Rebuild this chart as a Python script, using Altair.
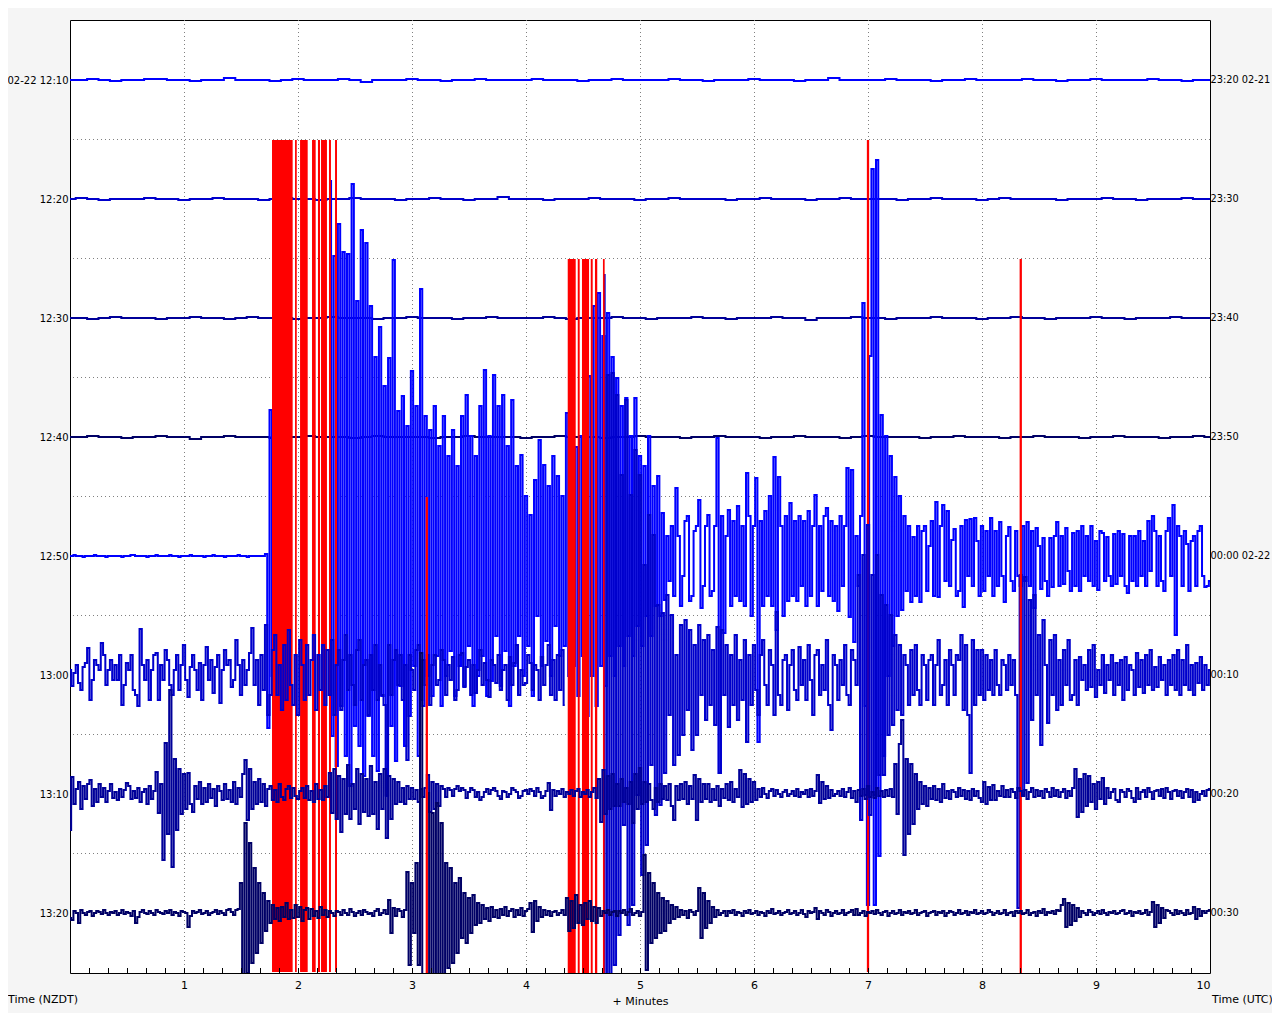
import altair as alt
import pandas as pd

# ---------------- labels ----------------
left_labels = ["02-22 12:10", "12:20", "12:30", "12:40", "12:50", "13:00", "13:10", "13:20"]
right_labels = ["23:20 02-21", "23:30", "23:40", "23:50", "00:00 02-22", "00:10", "00:20", "00:30"]
minute_ticks = [1, 2, 3, 4, 5, 6, 7, 8, 9, 10]
grid_minutes = [1, 2, 3, 4, 5, 6, 7, 8, 9]
row_colors = ["#0000ff", "#0000cc", "#000099", "#000066",
              "#0000ff", "#0000cc", "#000099", "#000066"]

ROW_GAP = 119   # counts between helicorder rows
CLIP = 416      # clip level (counts)

# ---------------- quiet rows (one sample every 0.1 min) ----------------
quiet_step = 0.1
row_1210 = [0, 0, 1, 0, -1, 0, 0, 1, 1, 0,
            0, -1, 0, 0, 2, 0, 0, 0, -1, 0,
            1, 0, 0, 0, 1, 0, -2, 0, 0, 0,
            1, 0, 0, -1, 0, 0, 1, 0, 0, 0,
            0, 1, 0, 0, 0, -1, 0, 0, 1, 0,
            0, 0, 0, 1, 0, 0, -1, 0, 0, 0,
            1, 0, 0, 0, -1, 0, 0, 2, 0, 0,
            0, 0, 1, 0, 0, 0, -1, 0, 0, 1,
            0, 0, 0, 0, 1, 0, 0, -1, 0, 0,
            1, 0, 0, 0, 0, 1, 0, 0, -1, 0,
            0]
row_1220 = [0, 1, 0, -1, 0, 0, 0, 1, 0, 0,
            -1, 0, 0, 1, 0, 0, 0, -1, 0, 1,
            0, 0, -1, 0, 0, 1, 0, 0, 0, -1,
            0, 0, 1, 0, 0, -1, 0, 0, 2, 0,
            0, 0, -1, 0, 0, 0, 1, 0, 0, 0,
            -1, 0, 0, 1, 0, 0, 0, 0, -1, 0,
            0, 1, 0, 0, 0, -1, 0, 0, 1, 0,
            0, 0, 0, -1, 0, 0, 1, 0, 0, 0,
            -1, 0, 1, 0, 0, 0, 0, -1, 0, 0,
            0, 1, 0, 0, -1, 0, 0, 0, 1, 0,
            0]
row_1230 = [0, 0, -1, 0, 1, 0, 0, 0, -1, 0,
            0, 1, 0, 0, -1, 0, 1, 0, 0, 0,
            -1, 0, 0, 1, 0, 0, 0, -1, 0, 0,
            1, 0, 0, 0, -1, 0, 0, 1, 0, 0,
            0, 0, 1, 0, -1, 0, 0, 0, 1, 0,
            0, -1, 0, 0, 0, 1, 0, 0, -1, 0,
            0, 0, 1, 0, 0, -2, 0, 0, 0, 1,
            0, 0, -1, 0, 0, 0, 1, 0, 0, 0,
            -1, 0, 0, 1, 0, 0, -1, 0, 0, 0,
            1, 0, 0, -1, 0, 0, 0, 1, 0, 0,
            0]
row_1240 = [0, 0, 1, 0, 0, -1, 0, 0, 1, 0,
            0, -2, 0, 0, 1, 0, 0, 0, -1, 0,
            0, 1, 0, 0, 0, -1, 0, 1, 0, 0,
            0, 0, -1, 0, 0, 1, 0, 0, 0, 0,
            -1, 0, 0, 1, 0, 0, 0, -1, 0, 0,
            1, 0, 0, 0, -1, 0, 0, 1, 0, 0,
            0, -1, 0, 0, 1, 0, 0, 0, -1, 0,
            1, 0, 0, 0, 0, -1, 0, 0, 1, 0,
            0, 0, -1, 0, 0, 1, 0, 0, 0, -1,
            0, 0, 1, 0, 0, 0, -1, 0, 0, 1,
            0]

# ---------------- busy rows (one sample every 0.02 min, None = clipped) ----------------
fine_step = 0.02
row_1250 = [0, 0, 1, 0, 0, 0, -1, 0, 0, 0, 0, 1, 0, 0, 0, 0, -1, 0, 0, 0,
            0, 0, 0, -1, 0, 0, 0, 1, 1, 0, 0, 0, 0, 0, -1, 0, 0, 0, 1, 0,
            0, 0, 0, 0, 1, 0, 0, 0, -1, 0, 0, 0, 0, 1, 0, 0, 0, 0, 0, -1,
            0, 0, 0, 1, 0, 0, 0, 0, -1, 0, 0, 0, 0, 0, 1, 0, 0, 0, -1, 0,
            0, 0, 0, 0, 0, 0, 2, -172, 146, -120, None, None, None, None, None, None, None, None, None, None,
            None, None, None, None, None, None, None, None, None, None, None, None, None, None, 375, -180, 300, -210, 332, -150,
            304, -200, 302, -230, 372, -170, 255, -190, 326, -220, 313, -160, 250, -200, 199, -215, 229, -140, 170, -240,
            198, -170, 296, -205, 145, -130, 160, -190, 130, -160, 185, -110, 150, -200, 267, -150, 140, -120, 126, -140,
            150, -100, 110, -150, 140, -120, 100, -95, 126, -140, 90, -110, 140, -130, 161, -90, 120, -150, 100, -120,
            150, -100, 186, -140, 120, -125, 181, -80, 150, -130, 161, -95, 110, -150, 156, -110, 90, -80, 101, -120,
            60, -90, 41, -140, 76, -60, 116, -110, 91, -85, 70, -120, 100, -70, 80, -100, 60, -90, 143, -120,
            90, -110, 109, -140, 120, -100, 150, -160, 180, -120, 250, -150, 263, -110, 220, -130, 243, -100, 199, -120,
            178, -90, 150, -110, 158, -80, 120, -100, 158, -70, 100, -90, 90, -60, 120, -80, 70, -50, 80, -60,
            43, -44, 20, -25, 30, -40, 68, 20, -50, -20, 35, 40, -45, -40, 25, 30, 56, -52, -30, 30,
            41, -40, -35, 30, 118, -217, 40, -77, 20, 46, -50, 35, -40, 50, -45, 30, -50, 83, 40, -60,
            30, 78, -186, 35, -50, 45, -40, 60, -50, 99, -74, 79, 30, -60, 40, -45, 53, -40, 35, -45,
            40, -30, 35, -50, 45, -40, 30, 61, -50, 30, -35, 40, 48, -40, 35, -45, 30, -55, 40, -30,
            30, 88, -61, 86, -86, 20, -30, 40, 253, -150, -349, 200, 387, -349, 396, -300, 141, -200, 120, -120,
            100, -90, 79, -60, 60, -54, 40, -35, 30, -46, 19, -40, 30, -46, 25, 30, -35, 10, 35, -40,
            54, -41, 30, 51, -25, 45, -30, 16, 27, -40, -35, 30, -51, 36, -20, 37, -30, 38, 15, -40,
            30, -35, 25, -20, 38, -40, 25, -30, 34, -20, -46, 20, 29, -25, -35, 25, -20, -30, 30, -25,
            34, -30, 25, -52, 28, 10, -33, 18, -25, -40, 18, -31, 20, 34, -30, 20, -28, 28, -15, -35,
            23, -30, 25, -35, 30, -20, 20, -25, 30, -30, 15, -34, 25, 23, -25, 19, -20, -30, 22, -28,
            25, -20, 22, -30, -37, 20, -25, 20, -30, 25, -20, 15, -30, 35, -15, 40, 25, -30, 20, -25,
            -35, 25, 38, -20, 51, -79, 30, 20, -30, 25, 12, -35, 15, 20, -30, 25, 30, -20, -31, -30,
            -25]
row_1300 = [5, -11, 2, 10, -8, -15, 8, 12, 27, -25, -5, 15, 10, 5, 32, 20, -10, 5, 15, -5,
            10, -5, 20, -30, -10, 12, 5, 20, -15, -20, -31, 46, 10, -5, 15, -25, 5, 20, 22, -25,
            10, -5, 25, 15, -10, -20, 5, 20, -15, 10, 30, -5, -22, 8, 20, 5, -15, 12, -25, 10,
            28, -5, 15, -18, 8, 20, -28, 5, 25, 10, 15, -12, -5, 35, 10, -20, 15, -10, 5, 22,
            47, -10, 15, -30, 20, -15, 50, -40, -20, 25, 40, -20, 10, -35, 30, -25, 45, -10, -30, 20,
            -40, 35, 10, -25, 30, -20, 15, 40, -35, 20, -15, 30, -30, 25, -20, 35, -40, 10, 25, -35,
            15, 40, -15, 20, -10, -30, 25, 35, -25, 10, 15, -40, 20, -15, 30, -25, 10, -20, -30, -120,
            30, -20, 15, 25, -10, 20, -25, 10, -85, 20, 5, -15, 25, 30, -25, 15, -10, 20, -30, 10,
            20, -10, -5, 25, 15, -20, 10, -5, 18, -25, -15, 20, 22, -12, 8, 15, -20, 10, -18, 5,
            25, -10, 12, -5, -22, 15, 10, -8, 20, -15, 5, 10, -25, 18, -10, 12, 30, -20, 5, -10,
            -8, 20, 12, -15, 10, 5, -25, 18, -10, 10, 30, -20, 15, -25, 20, -15, 25, -30, None, None,
            None, None, None, None, None, None, None, None, None, None, None, None, None, None, 400, -400, 300, -300, 302, -290,
            280, -260, 200, -150, 275, -250, 180, -230, 225, -120, 200, -200, 110, -170, 160, -90, 140, -140, 70, -130,
            62, -98, 80, -40, 60, -90, 20, -80, 50, -60, 55, -35, 45, -75, 30, -60, 50, -20, 35, -45,
            40, -30, 25, -50, 48, -98, 45, -20, 30, -52, 20, -30, 40, -45, 15, -25, 35, -67, 20, -30,
            30, -15, -40, 20, 35, -10, -30, 25, 10, -40, 63, -20, -30, 15, 20, -35, 10, 25, -15, -25,
            28, -10, 15, -25, 30, -5, -40, 20, 25, -20, 10, -15, 35, -30, -55, 20, 10, -25, 15, -10,
            30, -20, -30, 25, 15, -10, 100, -145, 120, -120, 150, -140, 100, -120, 120, -100, 80, -100, 70, -60,
            60, -50, 40, -35, 30, -40, 20, 10, -30, 25, -20, 30, -15, -30, 20, 10, -25, 15, 20, -30,
            10, 35, -20, -10, 15, -30, 25, 10, -20, 20, 15, 40, -35, 30, -40, -98, 35, -30, 25, -20,
            25, -25, 20, -15, 15, -20, 25, -10, -20, 15, 10, -15, 20, -10, 15, -20, -233, 100, -120, 98,
            -108, 75, -45, 80, -20, 40, -70, 55, 10, -48, 35, -20, 40, -35, 15, -30, 25, -10, 35, -25,
            -20, 15, -30, 18, -5, 10, -15, 25, -12, 30, -22, 5, -10, 20, -18, 10, -5, 20, -20, 12,
            -10, 15, -25, 18, -15, 10, 5, -20, 22, -12, 15, -18, 20, -10, 25, -15, 8, -12, 18, -5,
            10, -20, 15, -10, 20, -15, 25, -20, 15, -10, 30, -15, 10, -20, 12, -8, 18, -15, 10, -10,
            5]
row_1310 = [-36, 17, -10, 5, 12, -15, 8, -5, 10, 14, -12, 5, -8, 10, -3, 6, -8, 3, 10, -4,
            2, -6, 5, -3, 4, 11, 8, -5, 3, -4, 6, -8, 2, 5, -10, 8, -5, 3, 22, -19,
            10, -66, 51, -40, 104, -73, 35, -36, 25, -20, 20, -15, 21, -10, -18, 8, -5, 12, -10, 6,
            -8, 10, -4, 5, -12, 8, 3, -6, 10, -5, 4, -8, 12, -10, 6, -3, 20, 34, -26, 25,
            -15, 12, -10, 15, -8, 10, -12, 5, 8, -6, 4, -8, 10, -3, -6, 5, 8, -4, 6, -2,
            -5, 3, 6, -4, 8, -6, 3, -8, 10, -5, 4, -6, 8, -3, 21, -19, 25, -25, 18, -38,
            15, -20, 29, -25, 10, -15, 25, -30, 20, -18, 15, -22, 28, -20, 12, -35, 20, -15, 25, -44,
            18, -25, 15, -10, 12, -8, 6, -10, 8, -5, 6, -5, 4, -8, 5, -3, 6, 19, -18, 12,
            -15, 10, -12, 8, 5, -3, 6, 4, -2, 5, 8, 3, 6, 4, -4, 2, 6, 4, -3, 2,
            -6, -3, 2, 5, 0, 4, 6, 3, -2, -5, 3, 2, -3, 0, 6, 4, 2, -4, -2, 3,
            4, 0, 5, 3, -2, 6, 2, -4, -2, 3, 11, -16, 4, -2, 3, 0, 5, -3, 2, 0,
            4, -2, 3, 5, -3, 2, 0, 4, -3, 2, 6, -4, 15, -28, 24, -20, 18, -15, 20, -12,
            10, -12, 15, -8, 6, -10, 12, -29, 20, -15, 26, -10, 12, -8, 10, -6, -15, 6, -8, 10,
            -5, 8, -6, 10, -12, -26, 8, -6, 10, -5, 12, -10, 8, -5, 19, -26, 15, -8, 10, -5,
            10, -8, 5, -6, 8, -12, 5, -4, 10, -6, 12, -8, 5, -3, 24, -13, 20, -10, 15, -8,
            12, -6, 5, -3, 6, 0, -4, 3, 5, -2, 4, 0, -3, 2, 4, -2, 0, 3, -2, 5,
            -3, 2, 0, 4, -3, 5, -2, 3, 19, -9, 12, -5, 8, -4, 4, -2, 0, 3, -2, 5,
            -3, 2, 6, -4, 3, -8, 4, -2, 5, -5, 8, -3, 2, -4, 6, -2, 3, -3, 4, -2,
            5, -3, 30, -20, 50, 74, -61, 35, -40, 30, -30, 20, -15, 12, -10, 8, -12, 6, -5, 8,
            -6, 5, -8, 10, -4, 3, -5, 4, 2, -3, 6, -2, 4, -5, 3, -6, 5, -2, 3, -4,
            -8, 12, -10, 7, -6, 9, -6, 3, -2, 8, -3, 4, -3, 5, 2, -4, 6, 3, -2, 4,
            -5, 2, 6, -3, 4, -2, 3, -4, 5, 2, -3, 6, -2, 4, -3, 2, 5, -4, 3, -2,
            6, 25, -23, 15, -18, 20, -12, 18, -8, 10, -15, 12, -5, 16, -10, 6, -4, 2, 5, -6,
            -8, 4, 2, -3, 5, 3, -4, -8, 6, -5, 2, 4, -3, 6, 2, -5, 3, 4, -2, 5,
            -4, 6, 2, -5, 3, 4, -2, 3, -4, 2, 5, -3, 4, -8, 2, -6, 0, 3, -2, 4,
            5]
row_1320 = [-5, -7, 2, 0, -10, 3, 0, -2, 1, 2, -3, 0, 2, 1, -1, 3, 0, -2, 1, 0,
            2, -2, 0, 3, -1, 1, 0, -3, 2, -10, -4, 1, 3, 0, -1, 2, 0, -2, 3, 1,
            0, -1, 2, 0, 3, -2, 1, 0, -3, 2, 1, 0, -14, -3, 2, 0, 1, 3, -1, 0,
            2, -2, 0, 1, 3, -1, 2, 0, -2, 3, 4, 1, -2, 3, 4, 30, -65, 90, -60, 70,
            -50, 45, -40, 30, -30, 20, -18, 12, -10, 8, -6, 5, -8, 6, -4, 10, -6, 3, -5, 8,
            -4, 6, -8, 3, 5, -6, 4, -3, 2, -5, 6, -2, 3, -4, 2, 0, -3, 2, 1, -2,
            3, 0, -2, 4, 1, -3, 0, 2, -2, 3, 1, -1, 0, -3, 2, 4, -2, 0, 3, -1,
            13, -20, 5, -3, 4, 2, -4, 3, 41, -52, 30, -20, 50, -52, 260, -120, None, 120, -120, 100,
            -120, 110, -110, 90, -100, 50, -55, 45, -50, 30, -40, 35, -25, 20, -30, 15, -20, 18, -12, 10,
            -10, 8, -6, 5, -8, 6, -4, 3, -5, 4, -2, 6, -3, 2, 4, -4, 3, -2, 5, -3,
            2, 4, 10, -19, 12, -8, 6, -4, 3, -2, 2, -3, 1, 2, -2, 0, 3, -2, 15, -18,
            12, -15, 18, -10, 8, -12, 10, -6, 12, -8, 6, -10, 5, -3, 2, 0, 3, -2, 1, 2,
            -3, 2, 0, 3, -2, 1, 4, -2, 0, 2, -3, 1, 58, -57, 40, -30, 30, -25, 20, -20,
            15, -18, 12, -10, 8, -6, 6, -4, 3, -2, 2, -5, 3, 1, -2, 2, 25, -25, 20, -15,
            12, -10, 6, -4, 3, -2, 0, 2, -3, 2, 0, 3, -2, 1, 0, -3, 2, 0, 3, -1,
            0, 2, -2, 1, 0, -3, 2, 0, 4, -1, 0, 2, -2, 0, 1, 3, -1, 0, 2, -2,
            0, 3, -1, -4, 2, 0, 1, 5, -6, 2, 0, -2, 3, 1, -3, 0, 2, -1, 0, 3,
            -2, 0, 1, 3, -2, 4, -2, 0, 2, -3, 1, 0, 2, -1, 3, 0, -2, 1, 2, -3,
            0, 2, -1, 0, 3, -2, 1, 0, 2, -1, 0, 3, -2, 0, 1, 2, -3, 0, 1, 2,
            -2, 1, 0, 2, -3, 0, 2, 1, -2, 0, 3, -1, 0, 2, -2, 1, 0, 3, -1, 0,
            2, -1, 0, 3, 1, -2, 0, 2, -1, 0, 3, -2, 0, 1, -3, 2, 0, 2, -1, 0,
            3, -2, 0, 1, -3, 2, 0, 4, -2, 1, 0, 2, -1, 3, 2, 8, 14, -14, 10, -12,
            8, -8, 5, -4, 2, 0, -2, 3, 1, -2, 0, 2, -1, 3, 0, -2, 1, 0, 2, -1,
            0, 2, 3, -1, 0, 2, -3, 1, 0, 2, -1, 0, 3, -2, 1, 11, -14, 8, -10, 5,
            -5, 3, 2, 0, -2, 3, -1, 2, 0, -2, 3, -1, 0, 6, -6, 4, -3, 2, 0, 2,
            3]

# ---------------- clipped intervals (minutes) drawn in red ----------------
clip_1250 = [(1.772, 1.953), (1.974, 1.989), (2.018, 2.085), (2.123, 2.155),
             (2.175, 2.193), (2.202, 2.254), (2.272, 2.289), (2.325, 2.342),
             (6.99, 7.01)]
clip_1300 = [(4.366, 4.436), (4.454, 4.471), (4.491, 4.553), (4.568, 4.585),
             (4.605, 4.625), (4.675, 4.69), (8.33, 8.35)]
clip_1320 = [(3.12, 3.14)]

traces = [(row_1210, quiet_step), (row_1220, quiet_step), (row_1230, quiet_step),
          (row_1240, quiet_step), (row_1250, fine_step), (row_1300, fine_step),
          (row_1310, fine_step), (row_1320, fine_step)]
clips = {4: clip_1250, 5: clip_1300, 7: clip_1320}

# ---------------- tables ----------------
recs = []
for r, (vals, step) in enumerate(traces):
    seg = 0
    for i, v in enumerate(vals):
        if v is None:
            seg += 1
            continue
        a = max(-CLIP, min(CLIP, v))
        recs.append({"row": r, "seg": f"{r}-{seg}", "t": round(i * step, 4),
                     "y": r * ROW_GAP - a})
trace_df = pd.DataFrame(recs)

clip_recs = []
for r, ivs in clips.items():
    for t0, t1 in ivs:
        clip_recs.append({"row": r, "t0": t0, "t1": t1,
                          "y0": r * ROW_GAP - CLIP, "y1": r * ROW_GAP + CLIP})
clip_df = pd.DataFrame(clip_recs)

row_df = pd.DataFrame({"y": [r * ROW_GAP for r in range(8)], "label": right_labels})
half_df = pd.DataFrame({"h": [r * ROW_GAP + ROW_GAP / 2 for r in range(7)]})
vgrid_df = pd.DataFrame({"m": grid_minutes})
tick_df = pd.DataFrame({"m": [k / 6 for k in range(1, 60)]})

xs = alt.Scale(domain=[0, 10], nice=False, zero=False)
ys = alt.Scale(domain=[-60, 893], nice=False, zero=False, reverse=True)

label_expr = "[" + ",".join(f"'{s}'" for s in left_labels) + "][round(datum.value/119)]"

x_axis = alt.Axis(values=minute_ticks, format="d", ticks=False, domain=False, grid=False,
                  labelPadding=6, labelFontSize=11, labelColor="black",
                  title="+ Minutes", titleFontSize=11, titleFontWeight="normal",
                  titleColor="black", titlePadding=5)
y_axis = alt.Axis(values=[r * ROW_GAP for r in range(8)], labelExpr=label_expr,
                  ticks=False, domain=False, grid=False, labelPadding=2,
                  labelFontSize=10, labelColor="black", title=None)

vgrid = alt.Chart(vgrid_df).mark_rule(color="#808080", strokeDash=[1, 3], strokeWidth=1, xOffset=0.5).encode(
    x=alt.X("m:Q", scale=xs, axis=x_axis))
hgrid = alt.Chart(half_df).mark_rule(color="#808080", strokeDash=[1, 3], strokeWidth=1).encode(
    y=alt.Y("h:Q", scale=ys, axis=y_axis))

layers = [vgrid, hgrid]
for r in range(8):
    layers.append(
        alt.Chart(trace_df[trace_df["row"] == r]).mark_line(
            interpolate="step", strokeWidth=2, clip=True, color=row_colors[r]).encode(
            x=alt.X("t:Q", scale=xs, axis=x_axis),
            y=alt.Y("y:Q", scale=ys, axis=y_axis),
            detail="seg:N", order="t:Q"))
    if r in clips:
        layers.append(
            alt.Chart(clip_df[clip_df["row"] == r]).mark_rect(color="#ff0000", clip=True).encode(
                x=alt.X("t0:Q", scale=xs, axis=x_axis), x2="t1:Q",
                y=alt.Y("y0:Q", scale=ys, axis=y_axis), y2="y1:Q"))

ticks = alt.Chart(tick_df).mark_rule(color="black", strokeWidth=1, xOffset=0.5).encode(
    x=alt.X("m:Q", scale=xs, axis=x_axis), y=alt.value(953), y2=alt.value(948))
right_text = alt.Chart(row_df).mark_text(align="left", baseline="middle", fontSize=9.8,
                                         color="black", font="DejaVu Sans").encode(
    x=alt.value(1140.5), y=alt.Y("y:Q", scale=ys, axis=y_axis), text="label:N")
corner_df = pd.DataFrame({"label": ["Time (NZDT)"]})
corner_df2 = pd.DataFrame({"label": ["Time (UTC)"]})
nzdt = alt.Chart(corner_df).mark_text(align="left", baseline="middle", fontSize=11,
                                      color="black", font="DejaVu Sans").encode(
    x=alt.value(-62), y=alt.value(980), text="label:N")
utc = alt.Chart(corner_df2).mark_text(align="left", baseline="middle", fontSize=11,
                                      color="black", font="DejaVu Sans").encode(
    x=alt.value(1142), y=alt.value(980), text="label:N")

layers += [ticks, right_text, nzdt, utc]

chart = alt.layer(*layers).properties(
    width=1140, height=953,
    autosize=alt.AutoSizeParams(type="none"),
    padding={"left": 62, "top": 12, "right": 62, "bottom": 40},
).configure(background="#f5f5f5").configure_view(
    stroke="black", strokeWidth=1, fill="white"
).configure_axis(labelFont="DejaVu Sans", titleFont="DejaVu Sans")

chart.save("out.html", embed_options={"renderer": "svg", "actions": False})
